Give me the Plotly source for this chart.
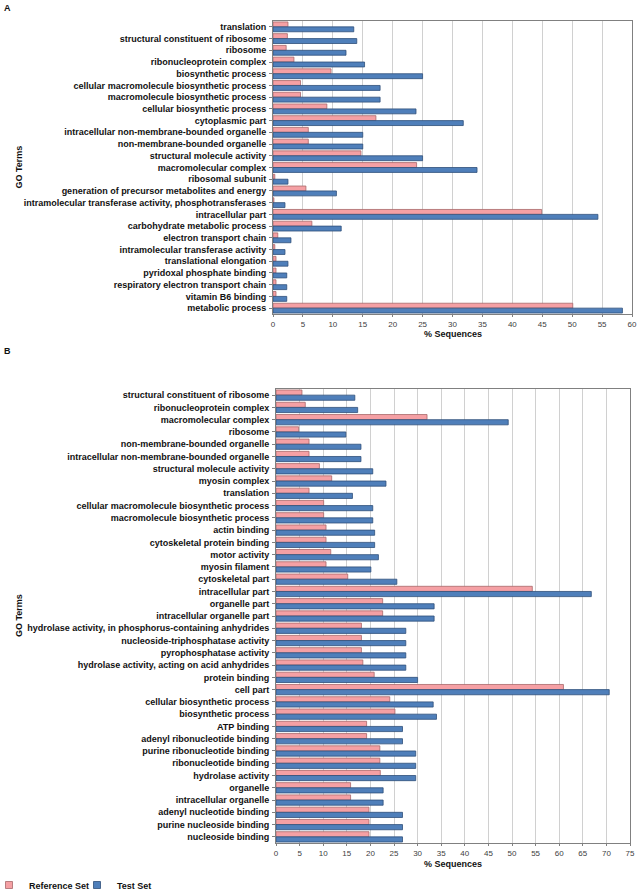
import plotly.graph_objects as go

# ---------------- Panel A data ----------------
terms_a = [
    "translation", "structural constituent of ribosome", "ribosome",
    "ribonucleoprotein complex", "biosynthetic process",
    "cellular macromolecule biosynthetic process",
    "macromolecule biosynthetic process", "cellular biosynthetic process",
    "cytoplasmic part", "intracellular non-membrane-bounded organelle",
    "non-membrane-bounded organelle", "structural molecule activity",
    "macromolecular complex", "ribosomal subunit",
    "generation of precursor metabolites and energy",
    "intramolecular transferase activity, phosphotransferases",
    "intracellular part", "carbohydrate metabolic process",
    "electron transport chain", "intramolecular transferase activity",
    "translational elongation", "pyridoxal phosphate binding",
    "respiratory electron transport chain", "vitamin B6 binding",
    "metabolic process",
]
ref_a = [2.5, 2.4, 2.2, 3.5, 9.7, 4.6, 4.6, 9.0, 17.2, 5.9, 5.9, 14.7, 24.0,
         0.3, 5.5, 0.15, 44.9, 6.5, 0.8, 0.3, 0.5, 0.5, 0.5, 0.5, 50.1]
test_a = [13.5, 14.0, 12.2, 15.3, 25.0, 17.9, 17.9, 23.9, 31.8, 15.0, 15.0,
          25.0, 34.1, 2.5, 10.6, 2.0, 54.3, 11.4, 3.0, 2.0, 2.5, 2.3, 2.3,
          2.3, 58.4]

# ---------------- Panel B data ----------------
terms_b = [
    "structural constituent of ribosome", "ribonucleoprotein complex",
    "macromolecular complex", "ribosome", "non-membrane-bounded organelle",
    "intracellular non-membrane-bounded organelle",
    "structural molecule activity", "myosin complex", "translation",
    "cellular macromolecule biosynthetic process",
    "macromolecule biosynthetic process", "actin binding",
    "cytoskeletal protein binding", "motor activity", "myosin filament",
    "cytoskeletal part", "intracellular part", "organelle part",
    "intracellular organelle part",
    "hydrolase activity, in phosphorus-containing anhydrides",
    "nucleoside-triphosphatase activity", "pyrophosphatase activity",
    "hydrolase activity, acting on acid anhydrides", "protein binding",
    "cell part", "cellular biosynthetic process", "biosynthetic process",
    "ATP binding", "adenyl ribonucleotide binding",
    "purine ribonucleotide binding", "ribonucleotide binding",
    "hydrolase activity", "organelle", "intracellular organelle",
    "adenyl nucleotide binding", "purine nucleoside binding",
    "nucleoside binding",
]
ref_b = [5.5, 6.2, 32.0, 4.8, 7.0, 7.0, 9.2, 11.8, 7.0, 10.1, 10.1, 10.6,
         10.6, 11.6, 10.6, 15.2, 54.3, 22.6, 22.6, 18.1, 18.1, 18.1, 18.4,
         20.8, 60.9, 24.1, 25.2, 19.2, 19.2, 22.0, 22.0, 22.1, 15.8, 15.8,
         19.7, 19.7, 19.7]
test_b = [16.7, 17.3, 49.2, 14.8, 18.0, 18.0, 20.5, 23.3, 16.2, 20.5, 20.5,
          20.9, 20.9, 21.7, 20.1, 25.6, 66.8, 33.5, 33.5, 27.5, 27.5, 27.5,
          27.5, 30.0, 70.6, 33.3, 34.0, 26.8, 26.8, 29.6, 29.6, 29.6, 22.7,
          22.7, 26.8, 26.8, 26.8]

series_names = ["Reference Set", "Test Set"]
ticks_a = list(range(0, 61, 5))
ticks_b = list(range(0, 76, 5))

W, H = 640, 892
PINK, PINK_LINE = "#F5A0A4", "#A8686A"
BLUE, BLUE_LINE = "#4F7FBA", "#2F4F7A"
FONT = "Liberation Sans, Arial, sans-serif"

fig = go.Figure()
for i, (terms, ref, test) in enumerate([(terms_a, ref_a, test_a),
                                         (terms_b, ref_b, test_b)]):
    xa = "x" if i == 0 else "x2"
    ya = "y" if i == 0 else "y2"
    fig.add_trace(go.Bar(y=terms, x=ref, orientation="h", name=series_names[0],
                         marker=dict(color=PINK, line=dict(color=PINK_LINE, width=0.8)),
                         xaxis=xa, yaxis=ya, showlegend=False))
    fig.add_trace(go.Bar(y=terms, x=test, orientation="h", name=series_names[1],
                         marker=dict(color=BLUE, line=dict(color=BLUE_LINE, width=0.8)),
                         xaxis=xa, yaxis=ya, showlegend=False))

# legend entries (small square swatches like the original)
for name, col, lc in [(series_names[0], PINK, PINK_LINE),
                      (series_names[1], BLUE, BLUE_LINE)]:
    fig.add_trace(go.Scatter(x=[None], y=[None], mode="markers", name=name,
                             marker=dict(symbol="square", size=7, color=col,
                                         line=dict(color=lc, width=0.8)),
                             xaxis="x2", yaxis="y2", showlegend=True))

def px_x(v):
    return v / W

def px_y(v):
    return 1 - v / H

A_top, A_bot = 21, 314
B_top, B_bot = 389, 843
A_l, A_r = 273, 632
B_l, B_r = 276, 630

common_x = dict(showgrid=True, gridcolor="#D0D0D0", gridwidth=1,
                zeroline=False, showline=True, linecolor="#808080", mirror=True,
                ticks="outside", ticklen=2, tickcolor="#808080",
                ticklabeloverflow="allow",
                tickfont=dict(family=FONT, size=8, color="#404040"))
common_y = dict(autorange="reversed", showline=True, linecolor="#808080",
                mirror=True, ticks="outside", ticklen=3, tickcolor="#808080",
                tickfont=dict(family=FONT, size=9, color="#111111", weight="bold"),
                ticklabelstandoff=1)

fig.update_layout(
    width=W, height=H, margin=dict(l=0, r=0, t=0, b=0, autoexpand=False),
    paper_bgcolor="white", plot_bgcolor="white",
    barmode="group", bargap=0.16, bargroupgap=0.0,
    font=dict(family=FONT, size=8, color="#111111"),
    xaxis=dict(domain=[px_x(A_l), px_x(A_r)], range=[0, 60], tickvals=ticks_a,
               anchor="y", automargin=False, **common_x),
    yaxis=dict(domain=[px_y(A_bot), px_y(A_top)], anchor="x", automargin=False,
               tickmode="array", tickvals=terms_a, ticktext=terms_a, **common_y),
    xaxis2=dict(domain=[px_x(B_l), px_x(B_r)], range=[0, 75], tickvals=ticks_b,
                anchor="y2", automargin=False, **common_x),
    yaxis2=dict(domain=[px_y(B_bot), px_y(B_top)], anchor="x2", automargin=False,
                tickmode="array", tickvals=terms_b, ticktext=terms_b, **common_y),
    legend=dict(orientation="h", x=-11 / W, y=px_y(885), xanchor="left",
                xref="paper", yref="paper",
                yanchor="middle", font=dict(family=FONT, size=9, weight="bold"),
                itemwidth=30, traceorder="normal", entrywidth=43,
                bgcolor="rgba(0,0,0,0)"),
)

ann = [
    dict(text="<b>A</b>", x=px_x(7), y=px_y(8), font=dict(size=9)),
    dict(text="<b>B</b>", x=px_x(7), y=px_y(351), font=dict(size=9)),
    dict(text="<b>GO Terms</b>", x=px_x(19), y=px_y((A_top + A_bot) / 2),
         textangle=-90, font=dict(size=9)),
    dict(text="<b>GO Terms</b>", x=px_x(19), y=px_y((B_top + B_bot) / 2),
         textangle=-90, font=dict(size=9)),
    dict(text="<b>% Sequences</b>", x=px_x((A_l + A_r) / 2), y=px_y(334),
         font=dict(size=9)),
    dict(text="<b>% Sequences</b>", x=px_x((B_l + B_r) / 2), y=px_y(864),
         font=dict(size=9)),
]
for a in ann:
    a.update(xref="paper", yref="paper", showarrow=False,
             xanchor="center", yanchor="middle")
    a["font"].update(family=FONT, color="#111111")
fig.update_layout(annotations=ann)

# remove the default 8px page margin so the figure sits at the window's corner
fig.write_html("out.html",
               config={"displayModeBar": False},
               post_script="document.body.style.margin='0';"
                           "document.body.style.overflow='hidden';")
